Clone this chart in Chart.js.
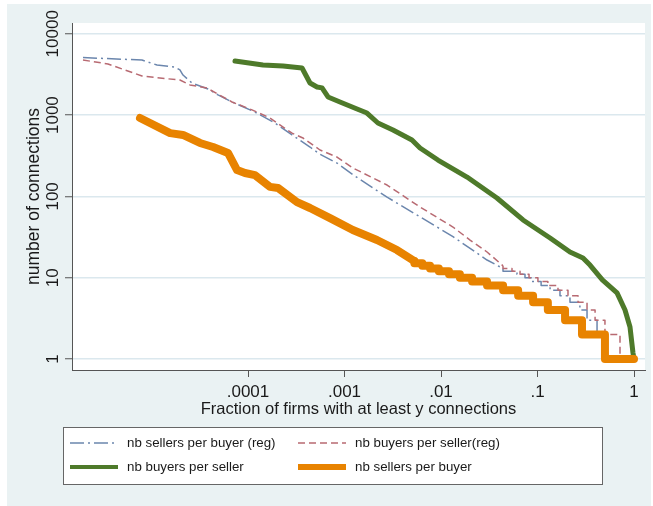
<!DOCTYPE html>
<html>
<head>
<meta charset="utf-8">
<script src="https://cdn.jsdelivr.net/npm/chart.js@4.4.0/dist/chart.umd.min.js"></script>
<style>
  html, body { margin: 0; padding: 0; background: #fff; }
  #wrap { width: 653px; height: 506px; }
</style>
</head>
<body>
<div id="wrap"><canvas id="chart" width="653" height="506"></canvas></div>
<script>
// axis ticks
const xTickValues = [0.0001, 0.001, 0.01, 0.1, 1];
const xTickLabels = [".0001", ".001", ".01", ".1", "1"];
const yTickValues = [1, 10, 100, 1000, 10000];
const yTickLabels = ["1", "10", "100", "1000", "10000"];

const seriesLabels = [
  "nb sellers per buyer (reg)",
  "nb buyers per seller(reg)",
  "nb buyers per seller",
  "nb sellers per buyer"
];

// nb sellers per buyer (reg): upper curve + stair tail (fraction, connections)
const sellersRegFrac = [1.95e-6, 7.97e-6, 1.14e-5, 1.75e-5, 1.97e-5, 2.12e-5, 2.63e-5, 3.85e-5, 4.89e-5, 6.83e-5, 1.18e-4, 1.9e-4, 2.86e-4, 4.39e-4, 5.57e-4, 8.36e-4, 1.28e-3, 2.76e-3, 6.06e-3, 0.0133, 0.030, 0.0439];
const sellersRegConn = [5100, 4760, 4130, 3900, 3590, 3110, 2480, 2090, 1770, 1450, 1090, 800, 570, 405, 330, 257, 178, 98, 56, 32, 16.5, 13];
const sellersRegStepFrac = [0.0439, 0.0613, 0.0742, 0.0877, 0.109, 0.135, 0.171, 0.217, 0.275, 0.326, 0.414, 0.525, 1];
const sellersRegStepConn = [13, 12, 11, 10, 9, 8, 7, 6, 5, 4, 3, 2, 1];

// nb buyers per seller(reg)
const buyersRegFrac = [1.95e-6, 3.54e-6, 5.31e-6, 7.97e-6, 1.22e-5, 1.97e-5, 2.5e-5, 3.76e-5, 6.83e-5, 1.1e-4, 1.69e-4, 2.86e-4, 3.71e-4, 5.57e-4, 8.36e-4, 1.22e-3, 2.76e-3, 6.06e-3, 0.0133, 0.020, 0.030, 0.0439];
const buyersRegConn = [4760, 4250, 3590, 3030, 2860, 2700, 2350, 2150, 1450, 1160, 920, 600, 523, 372, 305, 224, 138, 74, 42, 29, 20.7, 14];
const buyersRegStepFrac = [0.0439, 0.0544, 0.0659, 0.0817, 0.101, 0.128, 0.163, 0.207, 0.263, 0.326, 0.395, 0.50, 0.716, 1];
const buyersRegStepConn = [14, 13, 12, 11, 10, 9, 8, 7, 6, 5, 4, 3, 2, 1];

// nb buyers per seller
const buyersFrac = [7.33e-5, 1.43e-4, 2.31e-4, 3.63e-4, 4.39e-4, 5.19e-4, 5.85e-4, 6.75e-4, 8.98e-4, 1.35e-3, 1.71e-3, 2.22e-3, 3.18e-3, 5.0e-3, 6.06e-3, 9.3e-3, 0.0186, 0.038, 0.0708, 0.135, 0.217, 0.296, 0.350, 0.47, 0.667, 0.807, 0.909, 0.976, 1];
const buyersConn = [4630, 4130, 4020, 3800, 2480, 2220, 2160, 1670, 1450, 1190, 1060, 800, 656, 494, 394, 280, 173, 95.5, 51.3, 30.8, 20.7, 17.5, 14.3, 9.4, 6.5, 4.0, 2.47, 1.19, 1];

// nb sellers per buyer
const sellersFrac = [7.6e-6, 1.56e-5, 2.12e-5, 3.18e-5, 4.34e-5, 6.2e-5, 7.7e-5, 9.3e-5, 1.18e-4, 1.69e-4, 2.05e-4, 3.22e-4, 4.39e-4, 7.08e-4, 1.22e-3, 2.17e-3, 3.5e-3, 0.0053];
const sellersConn = [920, 600, 570, 454, 405, 342, 211, 194, 183, 131, 127, 85, 72, 54, 38.6, 29.1, 21.9, 16];
const sellersStepFrac = [0.0053, 0.0064, 0.0077, 0.0095, 0.0121, 0.0157, 0.021, 0.030, 0.044, 0.063, 0.090, 0.128, 0.193, 0.289, 0.50, 1];
const sellersStepConn = [16, 15, 14, 13, 12, 11, 10, 9, 8, 7, 6, 5, 4, 3, 2, 1];

const FONT = "'Liberation Sans', Arial, sans-serif";
const TEXT = "#1a1a1a";
const AXIS = "#555555";
const PANEL = "#eaf2f3";
const GRID = "#dbe8ee";

const blueStyle = { color: "#6b86ad", width: 1.5, dash: [14, 4, 2, 4] };
const redStyle = { color: "#b86a72", width: 1.5, dash: [7, 4] };
const greenStyle = { color: "#4e7a2a", width: 5, dash: [] };
const orangeStyle = { color: "#e88300", width: 8, dash: [] };

function pts(fx, cy) {
  return fx.map((x, i) => ({ x: x, y: cy[i] }));
}

function line(fx, cy, st, stepped) {
  return {
    data: pts(fx, cy),
    borderColor: st.color,
    borderWidth: st.width,
    borderDash: st.dash,
    stepped: stepped ? "after" : false,
    pointRadius: 0,
    fill: false,
    tension: 0,
    borderJoinStyle: "round",
    borderCapStyle: st.dash.length ? "butt" : "round"
  };
}

// first dataset is painted on top
const datasets = [
  line(sellersFrac, sellersConn, orangeStyle, false),
  line(sellersStepFrac, sellersStepConn, orangeStyle, true),
  line(buyersFrac, buyersConn, greenStyle, false),
  line(buyersRegFrac, buyersRegConn, redStyle, false),
  line(buyersRegStepFrac, buyersRegStepConn, redStyle, true),
  line(sellersRegFrac, sellersRegConn, blueStyle, false),
  line(sellersRegStepFrac, sellersRegStepConn, blueStyle, true)
];

const panelPlugin = {
  id: "panel",
  beforeDraw(chart) {
    const { ctx, chartArea: a } = chart;
    ctx.save();
    ctx.fillStyle = "#fff";
    ctx.fillRect(0, 0, chart.width, chart.height);
    ctx.fillStyle = PANEL;
    ctx.fillRect(7, 4, 644, 502);
    ctx.fillStyle = "#fff";
    ctx.fillRect(a.left, a.top, a.right - a.left, a.bottom - a.top);
    ctx.restore();
  }
};

// stata style legend box, 2 columns
const legendPlugin = {
  id: "stataLegend",
  afterDraw(chart) {
    const ctx = chart.ctx;
    const styles = [blueStyle, redStyle, greenStyle, orangeStyle];
    const sampleW = [1.5, 1.5, 4, 6];
    const cols = [70, 298];
    const rows = [443, 467];
    ctx.save();
    ctx.fillStyle = "#fff";
    ctx.strokeStyle = "#666";
    ctx.lineWidth = 1;
    ctx.fillRect(63.5, 427.5, 539, 57);
    ctx.strokeRect(63.5, 427.5, 539, 57);
    ctx.font = "13.3px " + FONT;
    ctx.textBaseline = "middle";
    seriesLabels.forEach((lab, i) => {
      const x = cols[i % 2];
      const y = rows[Math.floor(i / 2)];
      const st = styles[i];
      ctx.beginPath();
      ctx.setLineDash(st.dash);
      ctx.strokeStyle = st.color;
      ctx.lineWidth = sampleW[i];
      ctx.lineCap = "butt";
      ctx.moveTo(x, y);
      ctx.lineTo(x + 48, y);
      ctx.stroke();
      ctx.setLineDash([]);
      ctx.fillStyle = TEXT;
      ctx.fillText(lab, x + 57, y);
    });
    ctx.restore();
  }
};

new Chart(document.getElementById("chart"), {
  type: "line",
  data: { datasets: datasets },
  plugins: [panelPlugin, legendPlugin],
  options: {
    responsive: false,
    animation: false,
    devicePixelRatio: 1,
    layout: { padding: { left: 0, right: 8, top: 23, bottom: 87 } },
    plugins: { legend: { display: false }, tooltip: { enabled: false } },
    scales: {
      x: {
        type: "logarithmic",
        bounds: "data",
        min: 1.5e-6,
        max: 1.3,
        afterBuildTicks: (s) => { s.ticks = xTickValues.map((v) => ({ value: v })); },
        afterFit: (s) => { s.height = 49; },
        ticks: {
          autoSkip: false, minRotation: 0, maxRotation: 0, padding: 5,
          color: TEXT, font: { family: FONT, size: 17 },
          callback: (v, i) => xTickLabels[i]
        },
        grid: { color: "rgba(0,0,0,0)", drawTicks: true, tickLength: 7, tickColor: AXIS, tickWidth: 1 },
        border: { display: true, color: AXIS, width: 1 },
        title: {
          display: true, text: "Fraction of firms with at least y connections",
          color: TEXT, font: { family: FONT, size: 16.5 }, padding: { top: 0, bottom: 0 }
        }
      },
      y: {
        type: "logarithmic",
        bounds: "data",
        min: 0.732,
        max: 13580,
        afterBuildTicks: (s) => { s.ticks = yTickValues.map((v) => ({ value: v })); },
        afterFit: (s) => { s.width = 72; },
        ticks: {
          autoSkip: false, minRotation: 90, maxRotation: 90, crossAlign: "center", padding: -12,
          color: TEXT, font: { family: FONT, size: 17 },
          callback: (v, i) => yTickLabels[i]
        },
        grid: { color: GRID, lineWidth: 1.5, drawTicks: true, tickLength: 7, tickColor: AXIS, tickWidth: 1 },
        border: { display: true, color: AXIS, width: 1 },
        title: {
          display: true, text: "number of connections",
          color: TEXT, font: { family: FONT, size: 17.5 }, padding: { top: 24, bottom: 0 }
        }
      }
    }
  }
});
</script>
</body>
</html>
